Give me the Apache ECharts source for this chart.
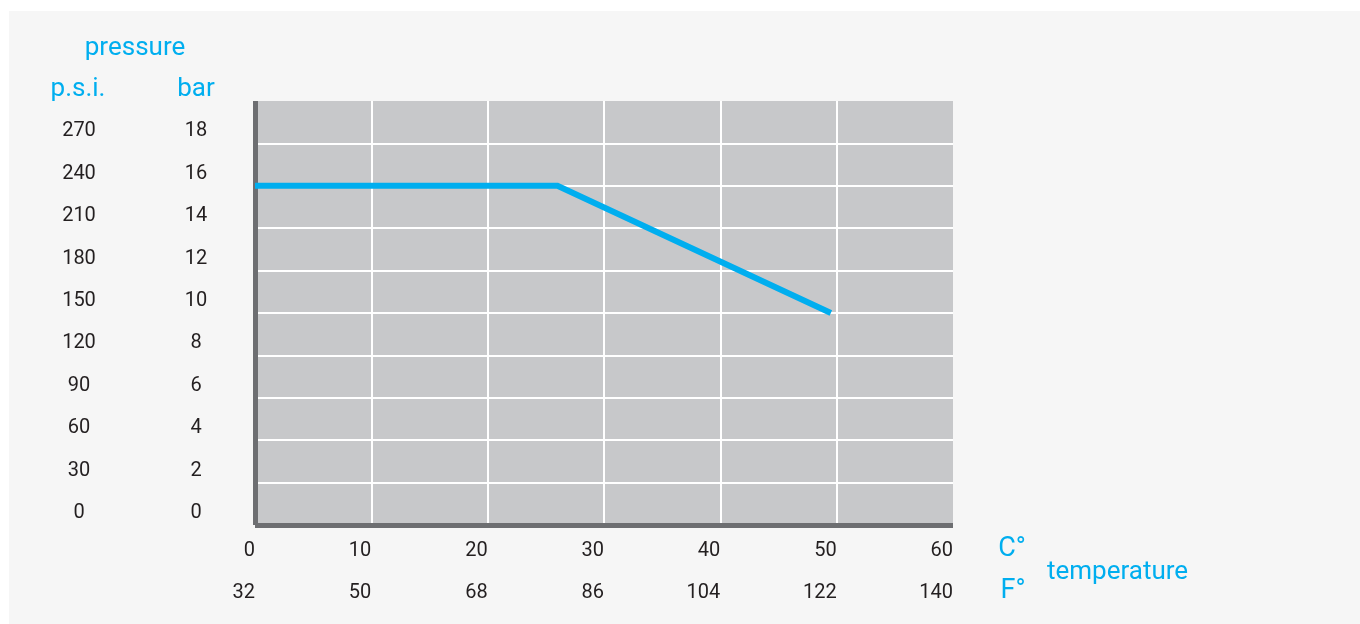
<!DOCTYPE html>
<html>
<head>
<meta charset="utf-8">
<script src="https://cdn.jsdelivr.net/npm/echarts@6/dist/echarts.min.js"></script>
<style>
  html, body { margin: 0; padding: 0; background: #ffffff; }
  #panel { position: absolute; left: 9px; top: 11px; width: 1351px; height: 613px; background: #f6f6f6; }
  #chart { position: absolute; left: 0; top: 0; width: 1360px; height: 624px; }
</style>
</head>
<body>
<div id="panel"></div>
<div id="chart"></div>
<script>
// Data
const temperatureC = [0, 26, 49.5];
const pressureBar = [16, 16, 10];
const barTickLabels = ['0', '2', '4', '6', '8', '10', '12', '14', '16', '18'];
const psiTickLabels = ['0', '30', '60', '90', '120', '150', '180', '210', '240', '270'];
const celsiusTickLabels = ['0', '10', '20', '30', '40', '50', '60'];
const fahrenheitTickLabels = ['32', '50', '68', '86', '104', '122', '140'];

const CYAN = '#00aeef';
const TEXT = '#231f20';
const FONT = 'Roboto';

const chart = echarts.init(document.getElementById('chart'), null, { renderer: 'canvas' });

const yLabelBase = {
  color: TEXT, fontFamily: FONT, fontSize: 20,
  align: 'center', verticalAlign: 'bottom', lineHeight: 24
};

chart.setOption({
  animation: false,
  grid: {
    show: true, left: 255, right: 407, top: 101, bottom: 99,
    backgroundColor: '#c7c8ca', borderWidth: 0, containLabel: false
  },
  xAxis: [
    {
      type: 'value', min: 0, max: 60, interval: 10, position: 'bottom',
      axisLine: { show: true, onZero: false, lineStyle: { color: '#6d6e71', width: 5, cap: 'butt' } },
      axisTick: { show: false },
      splitLine: { show: true, showMinLine: false, showMaxLine: false, lineStyle: { color: '#ffffff', width: 2 } },
      axisLabel: {
        color: TEXT, fontFamily: FONT, fontSize: 20, align: 'right', verticalAlign: 'middle', margin: 26,
        showMinLabel: true, showMaxLabel: true,
        formatter: v => celsiusTickLabels[Math.round(v / 10)] ?? ''
      }
    },
    {
      type: 'value', min: 0, max: 60, interval: 10, position: 'bottom',
      axisLine: { show: false }, axisTick: { show: false }, splitLine: { show: false },
      axisLabel: {
        color: TEXT, fontFamily: FONT, fontSize: 20, align: 'right', verticalAlign: 'middle', margin: 68,
        showMinLabel: true, showMaxLabel: true,
        formatter: v => fahrenheitTickLabels[Math.round(v / 10)] ?? ''
      }
    }
  ],
  yAxis: [
    {
      type: 'value', min: 0, max: 20, interval: 2, position: 'left',
      axisLine: { show: true, onZero: false, lineStyle: { color: '#6d6e71', width: 5, cap: 'butt' } },
      axisTick: { show: false },
      splitLine: { show: true, showMinLine: false, showMaxLine: false, lineStyle: { color: '#ffffff', width: 2 } },
      axisLabel: Object.assign({}, yLabelBase, {
        margin: 59,
        formatter: v => barTickLabels[Math.round(v / 2)] ?? ''
      })
    },
    {
      type: 'value', min: 0, max: 20, interval: 2, position: 'left',
      axisLine: { show: false }, axisTick: { show: false }, splitLine: { show: false },
      axisLabel: Object.assign({}, yLabelBase, {
        margin: 176,
        formatter: v => psiTickLabels[Math.round(v / 2)] ?? ''
      })
    }
  ],
  series: [
    {
      type: 'line', xAxisIndex: 0, yAxisIndex: 0,
      data: temperatureC.map((t, i) => [t, pressureBar[i]]),
      symbol: 'none', z: 5,
      lineStyle: { color: CYAN, width: 6, cap: 'butt', join: 'miter' }
    }
  ],
  graphic: [
    { type: 'text', x: 135, y: 48, style: { text: 'pressure', fill: CYAN, font: '26px Roboto', align: 'center', verticalAlign: 'middle' } },
    { type: 'text', x: 78, y: 89, style: { text: 'p.s.i.', fill: CYAN, font: '26px Roboto', align: 'center', verticalAlign: 'middle' } },
    { type: 'text', x: 196, y: 89, style: { text: 'bar', fill: CYAN, font: '26px Roboto', align: 'center', verticalAlign: 'middle' } },
    { type: 'text', x: 1012, y: 549, style: { text: 'C°', fill: CYAN, font: '27px Roboto', align: 'center', verticalAlign: 'middle' } },
    { type: 'text', x: 1013, y: 591, style: { text: 'F°', fill: CYAN, font: '27px Roboto', align: 'center', verticalAlign: 'middle' } },
    { type: 'text', x: 1047, y: 572, style: { text: 'temperature', fill: CYAN, font: '26px Roboto', align: 'left', verticalAlign: 'middle' } }
  ]
});
</script>
</body>
</html>
